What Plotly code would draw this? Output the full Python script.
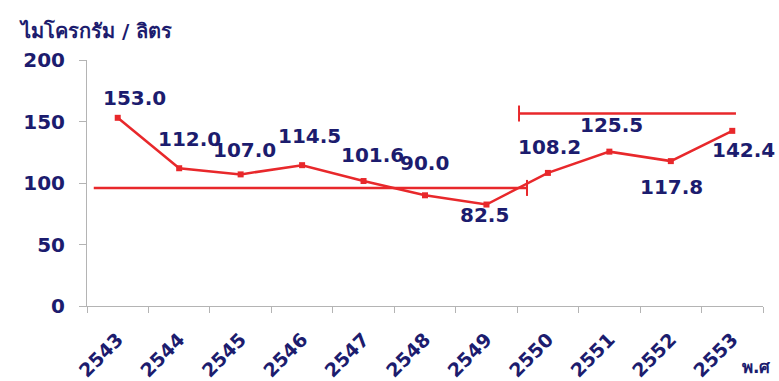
import plotly.graph_objects as go

years = ["2543", "2544", "2545", "2546", "2547", "2548", "2549", "2550", "2551", "2552", "2553"]
values = [153.0, 112.0, 107.0, 114.5, 101.6, 90.0, 82.5, 108.2, 125.5, 117.8, 142.4]
value_labels = ["153.0", "112.0", "107.0", "114.5", "101.6", "90.0", "82.5", "108.2", "125.5", "117.8", "142.4"]
# label offsets in pixels (dx, dy)
label_dx = [17, 10, 4, 7, 9, -1, -2, 2, 2, 1, 11]
label_dy = [20, 29, 24, 29, 26, 32, -10, 26, 27, -26, -19]

# reference lines: (value, x start index, x end index, cap at)
ref_low = dict(value=96.0, x0=-0.39, x1=6.66, cap=6.66)
ref_high = dict(value=156.5, x0=6.53, x1=10.06, cap=6.53)

RED = "#e8282b"
NAVY = "#1c1c6e"
GREY = "#b4b4b4"
FONT = "DejaVu Sans"

fig = go.Figure()
fig.add_trace(go.Scatter(
    x=years, y=values, mode="lines+markers",
    line=dict(color=RED, width=2.5),
    marker=dict(symbol="square", size=6, color=RED),
    hoverinfo="skip", showlegend=False,
))

shapes = []
for r in (ref_low, ref_high):
    shapes.append(dict(type="line", xref="x", yref="y", x0=r["x0"], x1=r["x1"],
                       y0=r["value"], y1=r["value"], line=dict(color=RED, width=2.5)))
    shapes.append(dict(type="line", xref="x", yref="y", x0=r["cap"], x1=r["cap"],
                       ysizemode="pixel", yanchor=r["value"], y0=-8, y1=8,
                       line=dict(color=RED, width=2)))

annotations = []
for i, (v, t, dx, dy) in enumerate(zip(values, value_labels, label_dx, label_dy)):
    annotations.append(dict(x=i, y=v, xref="x", yref="y", text=t, showarrow=False,
                            xshift=dx, yshift=dy,
                            font=dict(family=FONT, size=20, color=NAVY, weight="bold")))

annotations.append(dict(x=-0.104, y=1.118, xref="paper", yref="paper", xanchor="left", yanchor="middle",
                        text="ไมโครกรัม / ลิตร", showarrow=False,
                        font=dict(family=FONT, size=20, color=NAVY, weight="bold")))
annotations.append(dict(x=0.99, y=-0.248, xref="paper", yref="paper", xanchor="center", yanchor="middle",
                        text="พ.ศ", showarrow=False,
                        font=dict(family=FONT, size=17, color=NAVY, weight="bold")))

fig.update_layout(
    width=779, height=381,
    margin=dict(l=87, r=16, t=60, b=75),
    paper_bgcolor="white", plot_bgcolor="white",
    shapes=shapes, annotations=annotations,
    xaxis=dict(type="category", range=[-0.5, 10.5], showline=True, linecolor=GREY, linewidth=1,
               ticks="outside", tickson="boundaries", ticklen=6, tickcolor=GREY,
               tickangle=-45, showgrid=False, zeroline=False, ticklabelstandoff=14,
               automargin=False,
               tickfont=dict(family=FONT, size=19, color=NAVY, weight="bold")),
    yaxis=dict(range=[0, 200], tickvals=[0, 50, 100, 150, 200], showline=True, linecolor=GREY,
               linewidth=1, ticks="outside", ticklen=7, tickcolor=GREY, showgrid=False,
               zeroline=False, ticklabelstandoff=10, automargin=False,
               tickfont=dict(family=FONT, size=20, color=NAVY, weight="bold")),
)

fig.write_html("out.html")
